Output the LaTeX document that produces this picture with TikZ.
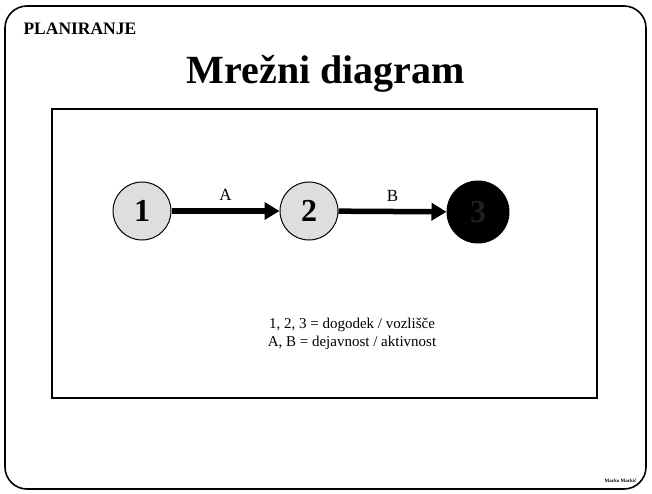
\documentclass[tikz,border=0pt]{standalone}
\usepackage{fontspec}
\setmainfont{Liberation Serif}
\usepackage{xcolor}
\usetikzlibrary{arrows.meta, positioning}
\definecolor{eventgray}{RGB}{222,222,222}

\begin{document}
\begin{tikzpicture}[x=1pt, y=-1pt,
  event/.style={circle, draw=black, line width=1pt,
    fill=eventgray, minimum size=58pt, inner sep=0pt,
    font=\fontsize{32}{32}\selectfont\bfseries},
  activity/.style={-{Triangle[length=15pt, width=17pt]},
    line width=5.5pt},
  lbl/.style={font=\fontsize{15}{15}\selectfont}
]
\useasboundingbox (0,0) rectangle (652,494);

% Slide frame
\draw[line width=1.6pt, rounded corners=22pt] (5,6) rectangle (646,489);

% Header and title
\node[anchor=west, font=\fontsize{17.5}{17.5}\selectfont\bfseries]
  (head) at (20,29) {PLANIRANJE};
\node[font=\fontsize{40}{40}\selectfont\bfseries]
  (title) at (326,74) {Mrežni diagram};

% Inner box
\draw[line width=1.2pt] (52,109) rectangle (597,398);

% Events
\node[event] (E1) at (142,211) {1};
\node[event] (E2) at (309,211) {2};
\node[event, fill=black, text=black!88, minimum size=62pt] (E3) at (478,212) {3};

% Activities
\draw[activity] (E1) -- node[lbl, font=\fontsize{17}{17}\selectfont, above=4pt] {A} (E2);
\draw[activity] (E2) -- node[lbl, font=\fontsize{17}{17}\selectfont, above=4pt] {B} (E3);

% Legend
\node[lbl, align=center] (legend) at (352,334)
  {1, 2, 3 = dogodek / vozlišče\\[3pt]
   A, B = dejavnost / aktivnost};

% Footer
\node[anchor=east, font=\fontsize{5}{5}\selectfont\bfseries]
  (author) at (640,481) {Marko Markič};
\end{tikzpicture}
\end{document}
